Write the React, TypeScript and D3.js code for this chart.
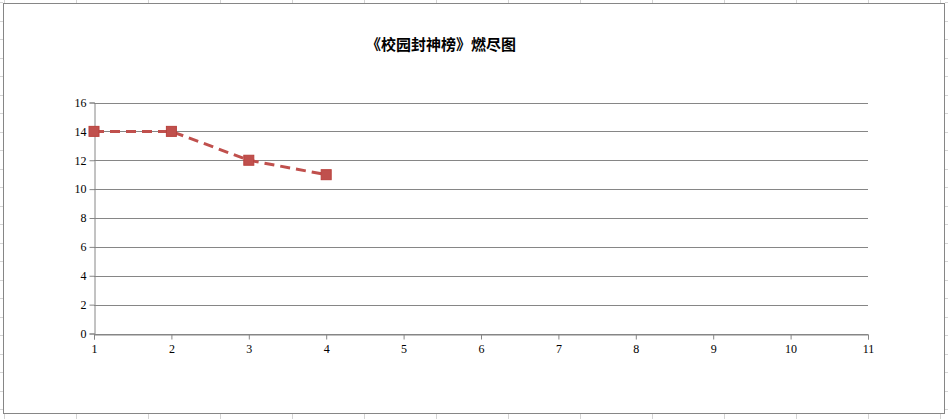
import React, { useEffect, useRef } from 'react';
import * as d3 from 'd3';

const title = '《校园封神榜》燃尽图';
const days = [1, 2, 3, 4];
const remaining = [14, 14, 12, 11];
const xTicks = [1, 2, 3, 4, 5, 6, 7, 8, 9, 10, 11];
const yTicks = [0, 2, 4, 6, 8, 10, 12, 14, 16];

const W = 948;
const H = 419;

const App: React.FC = () => {
  const svgRef = useRef<SVGSVGElement>(null);

  useEffect(() => {
    if (!svgRef.current) return;
    const svg = d3.select(svgRef.current);
    svg.selectAll('*').remove();

    // spreadsheet grid peeking out around the chart object
    const sheet = svg.append('g').attr('stroke', '#d4d4d4').attr('stroke-width', 1);
    d3.range(4, W, 72).forEach(x => {
      sheet.append('line').attr('x1', x + 0.5).attr('x2', x + 0.5).attr('y1', 0).attr('y2', 3);
      sheet.append('line').attr('x1', x + 0.5).attr('x2', x + 0.5).attr('y1', 414).attr('y2', H);
    });
    d3.range(2, H, 18.5).forEach(y => {
      sheet.append('line').attr('x1', 0).attr('x2', 3).attr('y1', Math.round(y) + 0.5).attr('y2', Math.round(y) + 0.5);
      sheet.append('line').attr('x1', 945).attr('x2', W).attr('y1', Math.round(y) + 0.5).attr('y2', Math.round(y) + 0.5);
    });

    // chart area frame
    svg.append('rect')
      .attr('x', 3.5).attr('y', 3.5).attr('width', 941).attr('height', 410)
      .attr('fill', '#fff').attr('stroke', '#868686').attr('stroke-width', 1);

    const x = d3.scaleLinear().domain([1, 11]).range([94, 868]);
    const y = d3.scaleLinear().domain([0, 16]).range([333.5, 102.5]);

    // horizontal gridlines
    svg.append('g').selectAll('line')
      .data(yTicks)
      .enter().append('line')
      .attr('x1', x(1)).attr('x2', x(11))
      .attr('y1', d => Math.round(y(d)) + 0.5).attr('y2', d => Math.round(y(d)) + 0.5)
      .attr('stroke', '#868686');

    // y axis
    const yAxis = svg.append('g')
      .attr('transform', `translate(${x(1) + 0.5},0)`)
      .call(d3.axisLeft(y).tickValues(yTicks).tickSize(5).tickPadding(3));
    yAxis.select('.domain').attr('stroke', '#868686');
    yAxis.selectAll('line').attr('stroke', '#868686');
    yAxis.selectAll('text')
      .attr('fill', '#000')
      .style('font-family', '"Liberation Serif", serif')
      .style('font-size', '12px');

    // x axis
    const xAxis = svg.append('g')
      .attr('transform', `translate(0,${Math.round(y(0)) + 0.5})`)
      .call(d3.axisBottom(x).tickValues(xTicks).tickSize(5).tickPadding(5).tickFormat(d3.format('d')));
    xAxis.select('.domain').attr('stroke', '#868686');
    xAxis.selectAll('line').attr('stroke', '#868686');
    xAxis.selectAll('text')
      .attr('fill', '#000')
      .style('font-family', '"Liberation Serif", serif')
      .style('font-size', '12px');

    const pts = days.map((d, i) => [x(d), y(remaining[i])] as [number, number]);

    svg.append('path')
      .attr('d', d3.line()(pts))
      .attr('fill', 'none')
      .attr('stroke', '#C0504D')
      .attr('stroke-width', 3)
      .attr('stroke-dasharray', '10,6');

    svg.append('g').selectAll('rect')
      .data(pts)
      .enter().append('rect')
      .attr('x', d => d[0] - 5).attr('y', d => d[1] - 5)
      .attr('width', 10).attr('height', 10)
      .attr('fill', '#C0504D')
      .attr('stroke', '#B9413D');

    svg.append('text')
      .attr('x', 441).attr('y', 50)
      .attr('text-anchor', 'middle')
      .attr('fill', '#000')
      .style('font-family', '"Noto Sans CJK SC", sans-serif')
      .style('font-weight', 'bold')
      .style('font-size', '15px')
      .text(title);
  }, []);

  return (
    <div style={{ position: 'absolute', left: 0, top: 0, width: W, height: H, background: '#fff' }}>
      <svg ref={svgRef} width={W} height={H} style={{ display: 'block' }} />
    </div>
  );
};

export default App;
